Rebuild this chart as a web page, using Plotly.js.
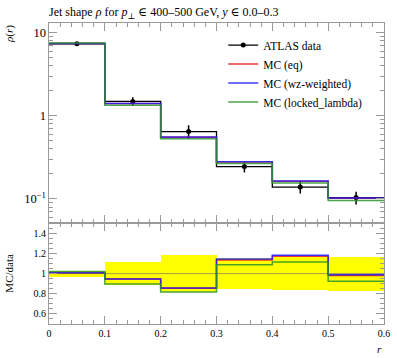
<!DOCTYPE html>
<html>
<head>
<meta charset="utf-8">
<script src="https://cdn.plot.ly/plotly-3.0.1.min.js"></script>
<style>html,body{margin:0;padding:0;background:#fff;}#plot{width:397px;height:358px;}</style>
</head>
<body>
<div id="plot"></div>
<script>
// Bin edges in r
var binEdges = [0, 0.1, 0.2, 0.3, 0.4, 0.5, 0.6];
// ATLAS data: rho(r)
var dataValues = [7.37, 1.49, 0.647, 0.245, 0.139, 0.104];
// Data uncertainty band (relative, as ratio upper / lower)
var bandUpper = [1.030, 1.120, 1.190, 1.155, 1.170, 1.170];
var bandLower = [0.965, 0.885, 0.815, 0.848, 0.838, 0.826];
// MC / data ratios
var ratioEq = [1.008, 0.947, 0.855, 1.135, 1.172, 0.982];
var ratioWz = [1.008, 0.947, 0.858, 1.145, 1.182, 0.990];
var ratioLocked = [1.022, 0.897, 0.818, 1.089, 1.116, 0.924];
// Names
var seriesNames = ['ATLAS data', 'MC (eq)', 'MC (wz-weighted)', 'MC (locked_lambda)'];
var seriesColors = ['#000000', '#e8141c', '#1a1aff', '#2a922a'];

var FONT = '"Liberation Serif", "DejaVu Serif", serif';
var AXC = '#9a9a9a';

function step(vals) {
  var x = [], y = [];
  for (var i = 0; i < vals.length; i++) {
    x.push(binEdges[i], binEdges[i + 1]);
    y.push(vals[i], vals[i]);
  }
  return {x: x, y: y};
}
function mul(a, b) { return a.map(function (v, i) { return v * b[i]; }); }

var centers = dataValues.map(function (v, i) { return (binEdges[i] + binEdges[i + 1]) / 2; });

var traces = [];
var ratios = [ratioEq, ratioWz, ratioLocked];
// data: step line
var ds = step(dataValues);
traces.push({x: ds.x, y: ds.y, type: 'scatter', mode: 'lines', line: {color: '#000', width: 1.3},
  showlegend: false, legendgroup: 'data', xaxis: 'x', yaxis: 'y'});
// data: points with error bars
traces.push({
  x: centers, y: dataValues, type: 'scatter', mode: 'markers', showlegend: false, legendgroup: 'data',
  marker: {color: '#000', size: 5, symbol: 'circle'},
  error_y: {type: 'data', symmetric: false,
            array: dataValues.map(function (v, i) { return v * (bandUpper[i] - 1); }),
            arrayminus: dataValues.map(function (v, i) { return v * (1 - bandLower[i]); }),
            width: 0, thickness: 1.5, color: '#000'},
  xaxis: 'x', yaxis: 'y'
});
// legend entry for data (no marks of its own)
traces.push({x: [null], y: [null], type: 'scatter', mode: 'lines+markers', name: seriesNames[0], legendgroup: 'data',
  line: {color: '#000', width: 1.3}, marker: {color: '#000', size: 5}, xaxis: 'x', yaxis: 'y'});
for (var k = 0; k < 3; k++) {
  var s = step(mul(ratios[k], dataValues));
  traces.push({
    x: s.x, y: s.y, type: 'scatter', mode: 'lines', name: seriesNames[k + 1],
    line: {color: seriesColors[k + 1], width: 1.5}, opacity: 0.85,
    xaxis: 'x', yaxis: 'y'
  });
}
// Ratio panel: yellow band
traces.push({
  x: centers, y: bandUpper.map(function (u, i) { return u - bandLower[i]; }), base: bandLower,
  type: 'bar', width: 0.1, marker: {color: '#ffff00', line: {width: 0}},
  showlegend: false, xaxis: 'x2', yaxis: 'y2', hoverinfo: 'skip'
});
// reference line at 1
var one = step(dataValues.map(function () { return 1; }));
traces.push({x: one.x, y: one.y, type: 'scatter', mode: 'lines', line: {color: '#a09a50', width: 1}, showlegend: false, xaxis: 'x2', yaxis: 'y2'});
for (var k2 = 0; k2 < 3; k2++) {
  var r = step(ratios[k2]);
  traces.push({
    x: r.x, y: r.y, type: 'scatter', mode: 'lines', showlegend: false,
    line: {color: seriesColors[k2 + 1], width: 1.5}, opacity: 0.85,
    xaxis: 'x2', yaxis: 'y2'
  });
}

var split = (324 - 223.3) / 301;
var tickFont = {family: FONT, size: 10, color: '#000'};
var layout = {
  width: 397, height: 358,
  margin: {l: 49, r: 13, t: 23, b: 34},
  paper_bgcolor: '#fff', plot_bgcolor: '#fff',
  font: {family: FONT, color: '#000'},
  showlegend: true,
  legend: {x: 0.52, y: 0.975, xanchor: 'left', yanchor: 'top', bgcolor: 'rgba(0,0,0,0)',
           font: {family: FONT, size: 11.5}, tracegroupgap: 0, traceorder: 'normal'},
  title: {text: 'Jet shape <i>ρ</i> for <i>p</i><sub>⊥</sub> ∈ 400–500 GeV, <i>y</i> ∈ 0.0–0.3',
          x: 49 / 397, xanchor: 'left', xref: 'container', y: 1 - 12 / 358, yanchor: 'middle', yref: 'container',
          font: {family: FONT, size: 12, color: '#000'}},
  xaxis: {domain: [0, 1], anchor: 'y', range: [0, 0.6], showticklabels: false,
          showline: true, linecolor: AXC, mirror: 'allticks', ticks: 'inside', ticklen: 8, tickcolor: AXC,
          dtick: 0.1, tick0: 0, showgrid: false, zeroline: false,
          minor: {ticks: 'inside', ticklen: 4, dtick: 0.02, tickcolor: AXC, showgrid: false}},
  yaxis: {domain: [split, 1], anchor: 'x', type: 'log', range: [-1.293, 1.117],
          showline: true, linecolor: AXC, mirror: 'allticks', ticks: 'inside', ticklen: 8, tickcolor: AXC,
          dtick: 1, exponentformat: 'power', showgrid: false, zeroline: false, tickfont: tickFont,
          minor: {ticks: 'inside', ticklen: 4, dtick: 'D1', tickcolor: AXC, showgrid: false}},
  xaxis2: {domain: [0, 1], anchor: 'y2', range: [0, 0.6], matches: 'x',
           showline: true, linecolor: AXC, mirror: 'allticks', ticks: 'inside', ticklen: 8, tickcolor: AXC,
           dtick: 0.1, tick0: 0, showgrid: false, zeroline: false, tickfont: tickFont,
           minor: {ticks: 'inside', ticklen: 4, dtick: 0.02, tickcolor: AXC, showgrid: false}},
  yaxis2: {domain: [0, split], anchor: 'x2', range: [0.5, 1.5],
           showline: true, linecolor: AXC, mirror: 'allticks', ticks: 'inside', ticklen: 8, tickcolor: AXC,
           tickvals: [0.6, 0.8, 1, 1.2, 1.4], ticktext: ['0.6', '0.8', '1', '1.2', '1.4'],
           showgrid: false, zeroline: false, tickfont: tickFont,
           minor: {ticks: 'inside', ticklen: 4, dtick: 0.05, tick0: 0, tickcolor: AXC, showgrid: false}},
  annotations: [
    {text: '<i>ρ</i>(<i>r</i>)', xref: 'paper', yref: 'paper', x: 0, y: 1, xshift: -40, xanchor: 'center', yanchor: 'top',
     textangle: -90, showarrow: false, font: {family: FONT, size: 11}},
    {text: 'MC/data', xref: 'paper', yref: 'paper', x: 0, y: split / 2, xshift: -40, xanchor: 'center', yanchor: 'middle',
     textangle: -90, showarrow: false, font: {family: FONT, size: 11}},
    {text: '<i>r</i>', xref: 'paper', yref: 'paper', x: 1, y: 0, yshift: -17, xanchor: 'right', yanchor: 'top',
     showarrow: false, font: {family: FONT, size: 11}}
  ],
  barmode: 'overlay', bargap: 0
};
Plotly.newPlot('plot', traces, layout, {displayModeBar: false, staticPlot: true});
</script>
</body>
</html>
